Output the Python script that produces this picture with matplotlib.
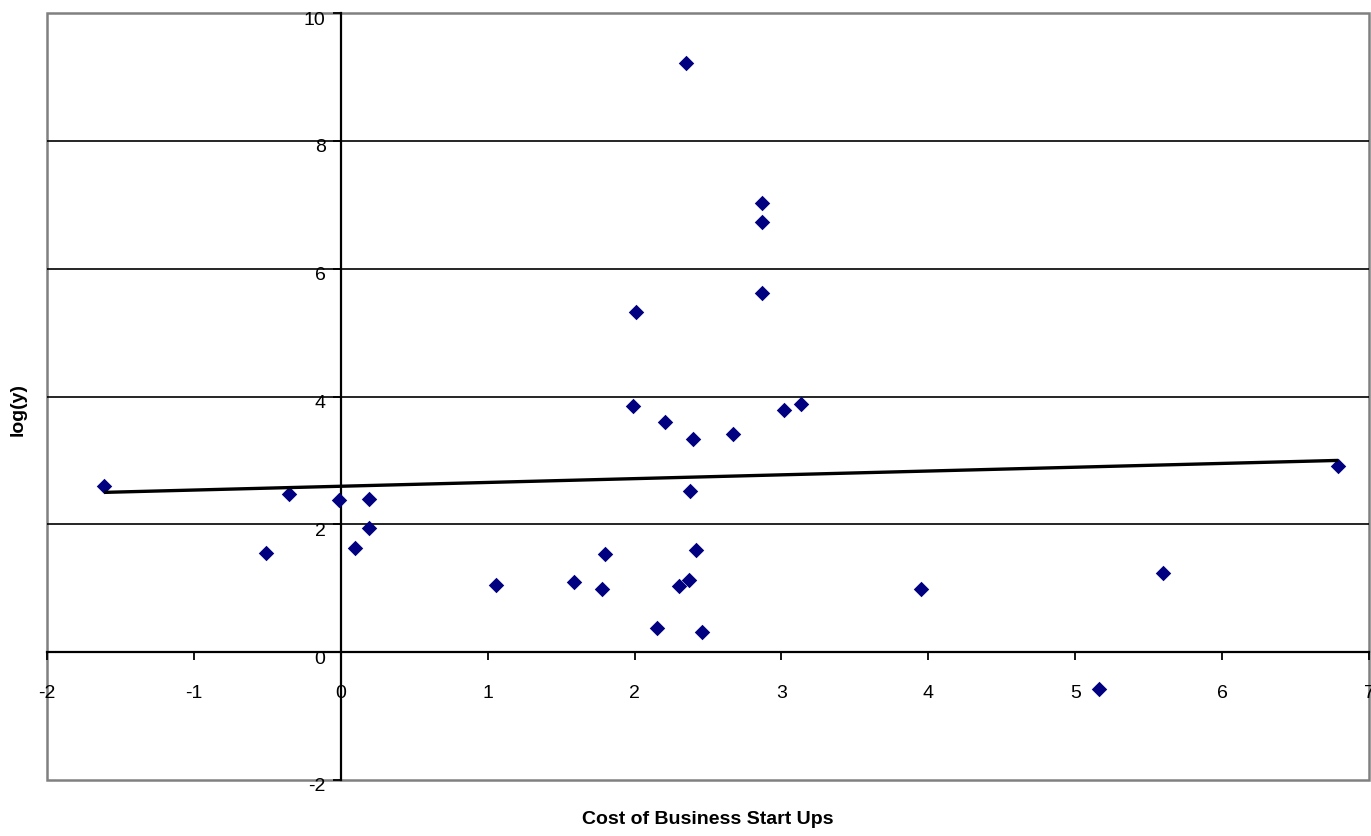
"""Scatter of log(y) against cost of business start ups, with a linear trend line."""

import matplotlib

matplotlib.use("Agg")
import matplotlib.pyplot as plt
import matplotlib.transforms as mtransforms
from matplotlib.patches import Rectangle

plt.rcParams["font.family"] = ["Liberation Sans", "DejaVu Sans"]
plt.rcParams["axes.unicode_minus"] = False

# values
cost = [-1.61, -0.35, -0.51, -0.01, 0.19, 0.19, 0.10, 1.06, 1.59, 1.78,
        1.80, 1.99, 2.01, 2.21, 2.15, 2.35, 2.40, 2.38, 2.42, 2.37,
        2.30, 2.46, 2.67, 2.87, 2.87, 2.87, 3.02, 3.13, 3.95, 5.16,
        5.60, 6.79]
log_y = [2.60, 2.47, 1.55, 2.38, 2.39, 1.94, 1.63, 1.05, 1.10, 0.99,
         1.53, 3.85, 5.32, 3.60, 0.38, 9.22, 3.33, 2.52, 1.60, 1.13,
         1.03, 0.31, 3.41, 7.03, 6.73, 5.62, 3.79, 3.88, 0.99, -0.58,
         1.24, 2.91]
# trend line as drawn in the reference (start, end)
trend_y = [2.50, 3.00]

x_ticks = list(range(-2, 8))
y_ticks = list(range(-2, 11, 2))


def main() -> None:
    fig = plt.figure(figsize=(13.71, 8.37), dpi=100)
    ax = fig.add_axes([47 / 1371, 56 / 837, 1322 / 1371, 767 / 837])

    ax.set_xlim(-2, 7)
    ax.set_ylim(-2, 10)

    # axes crossing at the origin, plain gray frame around the plot area
    for side in ("top", "right"):
        ax.spines[side].set_visible(False)
    ax.spines["left"].set_position(("data", 0))
    ax.spines["bottom"].set_position(("data", 0))
    for side in ("left", "bottom"):
        ax.spines[side].set_color("black")
        ax.spines[side].set_linewidth(1.6)
        ax.spines[side].set_zorder(3)
    ax.add_patch(Rectangle((0, 0), 1, 1, transform=ax.transAxes, fill=False,
                           edgecolor="#808080", lw=1.8, clip_on=False, zorder=1))

    ax.hlines([t for t in y_ticks if -2 < t < 10], -2, 7, color="black", lw=1.2, zorder=1)

    ax.set_xticks(x_ticks)
    ax.set_yticks(y_ticks)
    ax.tick_params(axis="x", direction="out", length=6, width=1.3, pad=17, labelsize=14)
    ax.tick_params(axis="y", direction="out", length=6, width=1.3, pad=5, labelsize=14)

    # Excel sets the y labels slightly below their ticks
    shift = mtransforms.ScaledTranslation(0, -4 / 100, fig.dpi_scale_trans)
    for lbl in ax.get_yticklabels():
        lbl.set_transform(lbl.get_transform() + shift)

    ax.scatter(cost, log_y, marker="D", s=62, color="#000080", zorder=4, linewidths=0)

    x_ends = [min(cost), max(cost)]
    ax.plot(x_ends, trend_y, color="black", lw=2.4, zorder=5, solid_capstyle="butt")

    fig.text(708 / 1371, 1 - 820 / 837, "Cost of Business Start Ups", ha="center", va="center",
             fontsize=14, fontweight="bold")
    fig.text(18 / 1371, 1 - 410 / 837, "log(y)", ha="center", va="center", rotation=90,
             fontsize=14, fontweight="bold")

    fig.savefig("out.png", dpi=100)


if __name__ == "__main__":
    main()
